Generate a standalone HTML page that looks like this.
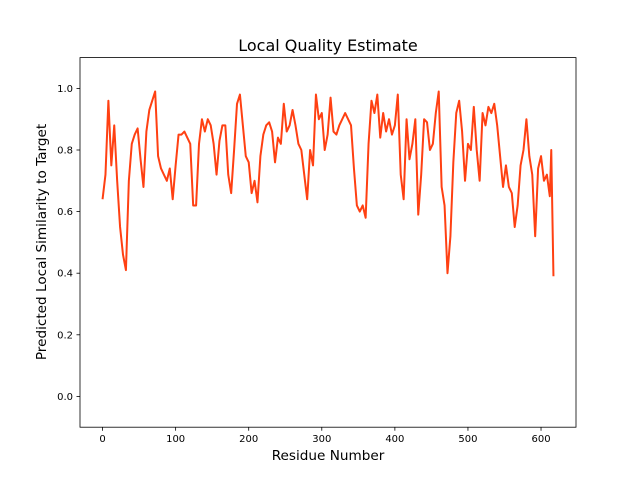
<!DOCTYPE html>
<html><head><meta charset="utf-8"><style>
html,body{margin:0;padding:0;background:#fff;}
svg{display:block;font-family:"DejaVu Sans","Liberation Sans",sans-serif;}
</style></head><body>
<svg id="chart" width="640" height="480" viewBox="0 0 640 480" xmlns="http://www.w3.org/2000/svg">
<rect x="0" y="0" width="640" height="480" fill="#fff"/>
<text x="328" y="51" font-size="16" text-anchor="middle" fill="#000">Local Quality Estimate</text>
<text x="328" y="460" font-size="13.6" text-anchor="middle" fill="#000">Residue Number</text>
<text x="0" y="0" font-size="13.6" text-anchor="middle" fill="#000" transform="translate(46,242) rotate(-90)">Predicted Local Similarity to Target</text>
<g id="ticks"></g>
<g id="series"></g>
<rect x="80" y="57.6" width="496" height="369.6" fill="none" stroke="#000" stroke-width="0.8"/>
</svg>
<script>
const residues = [0,4,8,12,16,20,24,28,32,36,40,44,48,52,56,60,64,68,72,76,80,84,88,92,96,100,104,108,112,116,120,124,128,132,136,140,144,148,152,156,160,164,168,172,176,180,184,188,192,196,200,204,208,212,216,220,224,228,232,236,240,244,248,252,256,260,264,268,272,276,280,284,288,292,296,300,304,308,312,316,320,324,328,332,336,340,344,348,352,356,360,364,368,372,376,380,384,388,392,396,400,404,408,412,416,420,424,428,432,436,440,444,448,452,456,460,464,468,472,476,480,484,488,492,496,500,504,508,512,516,520,524,528,532,536,540,544,548,552,556,560,564,568,572,576,580,584,588,592,596,600,604,608,612,614,617];
const scores = [0.64,0.72,0.96,0.75,0.88,0.70,0.55,0.46,0.41,0.70,0.82,0.85,0.87,0.77,0.68,0.86,0.93,0.96,0.99,0.78,0.74,0.72,0.70,0.74,0.64,0.75,0.85,0.85,0.86,0.84,0.82,0.62,0.62,0.82,0.90,0.86,0.90,0.88,0.82,0.72,0.83,0.88,0.88,0.72,0.66,0.80,0.95,0.98,0.88,0.78,0.76,0.66,0.70,0.63,0.78,0.85,0.88,0.89,0.86,0.76,0.84,0.82,0.95,0.86,0.88,0.93,0.88,0.82,0.80,0.72,0.64,0.80,0.75,0.98,0.90,0.92,0.80,0.85,0.97,0.86,0.85,0.88,0.90,0.92,0.90,0.88,0.74,0.62,0.60,0.62,0.58,0.82,0.96,0.92,0.98,0.84,0.92,0.86,0.90,0.85,0.88,0.98,0.72,0.64,0.90,0.77,0.82,0.90,0.59,0.72,0.90,0.89,0.80,0.82,0.92,0.99,0.68,0.62,0.40,0.52,0.76,0.92,0.96,0.86,0.70,0.82,0.80,0.94,0.80,0.70,0.92,0.88,0.94,0.92,0.95,0.88,0.78,0.68,0.75,0.68,0.66,0.55,0.62,0.75,0.80,0.90,0.78,0.72,0.52,0.74,0.78,0.70,0.72,0.65,0.80,0.39];
const xTicks = [0,100,200,300,400,500,600];
const yTicks = [0.0,0.2,0.4,0.6,0.8,1.0];
const NS="http://www.w3.org/2000/svg";
const X0=80,X1=576,Y0=427.2,Y1=57.6,xmin=-30.85,xmax=647.85,ymin=-0.1,ymax=1.1;
const xs=v=>X0+(v-xmin)/(xmax-xmin)*(X1-X0);
const ys=v=>Y0-(v-ymin)/(ymax-ymin)*(Y0-Y1);
const tg=document.getElementById('ticks');
xTicks.forEach(t=>{
  const l=document.createElementNS(NS,'line');
  l.setAttribute('x1',xs(t));l.setAttribute('x2',xs(t));l.setAttribute('y1',Y0);l.setAttribute('y2',Y0+3.5);
  l.setAttribute('stroke','#000');l.setAttribute('stroke-width','0.8');
  
  
  tg.appendChild(l);
  const tx=document.createElementNS(NS,'text');
  tx.setAttribute('x',xs(t));tx.setAttribute('y',Y0+15);tx.setAttribute('font-size','10');tx.setAttribute('text-anchor','middle');
  tx.textContent=String(t);
  
  
  tg.appendChild(tx);
});
yTicks.forEach(t=>{
  const l=document.createElementNS(NS,'line');
  l.setAttribute('x1',X0-3.5);l.setAttribute('x2',X0);l.setAttribute('y1',ys(t));l.setAttribute('y2',ys(t));
  l.setAttribute('stroke','#000');l.setAttribute('stroke-width','0.8');
  
  
  tg.appendChild(l);
  const tx=document.createElementNS(NS,'text');
  tx.setAttribute('x',X0-7);tx.setAttribute('y',ys(t)+3.5);tx.setAttribute('font-size','10');tx.setAttribute('text-anchor','end');
  tx.textContent=t.toFixed(1);
  
  
  tg.appendChild(tx);
});
const p=document.createElementNS(NS,'polyline');
p.setAttribute('points',residues.map((r,i)=>xs(r).toFixed(2)+','+ys(scores[i]).toFixed(2)).join(' '));
p.setAttribute('fill','none');p.setAttribute('stroke','#ff4012');p.setAttribute('stroke-width','2');p.setAttribute('stroke-linejoin','round');


document.getElementById('series').appendChild(p);
</script>
</body></html>
